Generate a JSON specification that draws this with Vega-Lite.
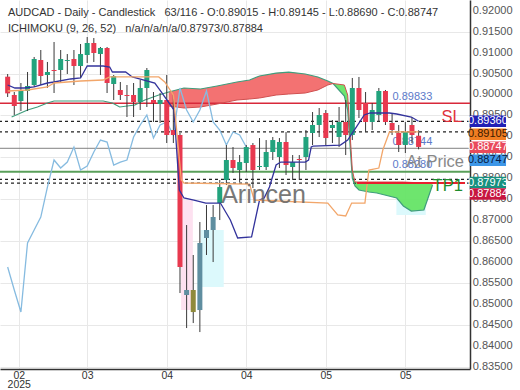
{
"$schema":"https://vega.github.io/schema/vega-lite/v6.json",
"width":470,"height":369,"autosize":"none",
"padding":{"left":0,"top":0,"right":50,"bottom":21},
"background":"#ffffff",
"title":{"text":"AUDCAD - Daily - Candlestick \u00a0\u00a063/116 - O:0.89015 - H:0.89145 - L:0.88690 - C:0.88747","subtitle":"ICHIMOKU (9, 26, 52) \u00a0\u00a0n/a/n/a/n/a/0.87973/0.87884","anchor":"start","frame":"group","offset":-34,"dx":8,"font":"Liberation Sans","fontSize":11,"fontWeight":"normal","color":"#333333","subtitleFont":"Liberation Sans","subtitleFontSize":11,"subtitleColor":"#333333","subtitlePadding":5},
"config":{"view":{"stroke":null},"axis":{"domainColor":"#333333","gridColor":"#e8e8e8","ticks":false,"labelFont":"Liberation Sans","labelFontSize":11,"labelFlush":false},"text":{"font":"Liberation Sans"}},
"resolve":{"scale":{"color":"independent"}},
"datasets":{
"candles":[
{"i":0,"o":0.90425,"h":0.90489,"l":0.89940,"c":0.90027,"t":"d","k":0.85880},
{"i":1,"o":0.89988,"h":0.90059,"l":0.89510,"c":0.89725,"t":"d","k":0.85331},
{"i":2,"o":0.89844,"h":0.90274,"l":0.89605,"c":0.90083,"t":"u","k":0.84805},
{"i":3,"o":0.90083,"h":0.90537,"l":0.89605,"c":0.90203,"t":"u","k":0.86453},
{"i":4,"o":0.90226,"h":0.90895,"l":0.90179,"c":0.90847,"t":"u","k":0.86764},
{"i":5,"o":0.90823,"h":0.91062,"l":0.90226,"c":0.90441,"t":"d","k":0.87074},
{"i":6,"o":0.90465,"h":0.90776,"l":0.90155,"c":0.90537,"t":"u","k":0.87790},
{"i":7,"o":0.90585,"h":0.91253,"l":0.90035,"c":0.90561,"t":"d","k":0.88435},
{"i":8,"o":0.90585,"h":0.91062,"l":0.90298,"c":0.90847,"t":"u","k":0.88244},
{"i":9,"o":0.90799,"h":0.90966,"l":0.90489,"c":0.90823,"t":"u","k":0.88387},
{"i":10,"o":0.90847,"h":0.91062,"l":0.90226,"c":0.90680,"t":"d","k":0.88745},
{"i":11,"o":0.90680,"h":0.91205,"l":0.90394,"c":0.90966,"t":"u","k":0.88196},
{"i":12,"o":0.90943,"h":0.91372,"l":0.90752,"c":0.91229,"t":"u","k":0.88292},
{"i":13,"o":0.91229,"h":0.91348,"l":0.90776,"c":0.90990,"t":"d","k":0.88626},
{"i":14,"o":0.90966,"h":0.91134,"l":0.90465,"c":0.91110,"t":"u","k":0.88912},
{"i":15,"o":0.91110,"h":0.91134,"l":0.90035,"c":0.90274,"t":"d","k":0.88865},
{"i":16,"o":0.90250,"h":0.90465,"l":0.89868,"c":0.90441,"t":"u","k":0.88316},
{"i":17,"o":0.90107,"h":0.90298,"l":0.89868,"c":0.89988,"t":"d","k":0.88387},
{"i":18,"o":0.89988,"h":0.90226,"l":0.89462,"c":0.89964,"t":"d","k":0.88435},
{"i":19,"o":0.89988,"h":0.90274,"l":0.89462,"c":0.89820,"t":"d","k":0.88984},
{"i":20,"o":0.89820,"h":0.90346,"l":0.89629,"c":0.90155,"t":"u","k":0.89271},
{"i":21,"o":0.90155,"h":0.90632,"l":0.89701,"c":0.90585,"t":"u","k":0.89510},
{"i":22,"o":0.89868,"h":0.90059,"l":0.89343,"c":0.89796,"t":"d","k":0.88960},
{"i":23,"o":0.89772,"h":0.90035,"l":0.89319,"c":0.89868,"t":"u","k":0.89271},
{"i":24,"o":0.89868,"h":0.90465,"l":0.88841,"c":0.89032,"t":"d","k":0.89343},
{"i":25,"o":0.89151,"h":0.89988,"l":0.88841,"c":0.89032,"t":"d","k":0.89032},
{"i":26,"o":0.89032,"h":0.89080,"l":0.85259,"c":0.85880,"t":"d","k":0.90155},
{"i":27,"o":0.85212,"h":0.86883,"l":0.84423,"c":0.85331,"t":"m","k":0.89629},
{"i":28,"o":0.85331,"h":0.86167,"l":0.84542,"c":0.84805,"t":"o","k":0.89343},
{"i":29,"o":0.84853,"h":0.86955,"l":0.84327,"c":0.86453,"t":"m","k":0.89629},
{"i":30,"o":0.86573,"h":0.87360,"l":0.86167,"c":0.86764,"t":"m","k":0.90083},
{"i":31,"o":0.86764,"h":0.87360,"l":0.85999,"c":0.87074,"t":"m","k":0.89343},
{"i":32,"o":0.87408,"h":0.87958,"l":0.87002,"c":0.87790,"t":"u","k":0.89151},
{"i":33,"o":0.87958,"h":0.88793,"l":0.87838,"c":0.88435,"t":"u","k":0.88793},
{"i":34,"o":0.88435,"h":0.88745,"l":0.88125,"c":0.88244,"t":"d","k":0.89104},
{"i":35,"o":0.88196,"h":0.88554,"l":0.87910,"c":0.88387,"t":"u","k":0.89032},
{"i":36,"o":0.88364,"h":0.88793,"l":0.88149,"c":0.88745,"t":"u","k":0.88747},
{"i":37,"o":0.88793,"h":0.88841,"l":0.87766,"c":0.88196,"t":"d"},
{"i":38,"o":0.88268,"h":0.88960,"l":0.88196,"c":0.88292,"t":"u"},
{"i":39,"o":0.88268,"h":0.88912,"l":0.88196,"c":0.88626,"t":"u"},
{"i":40,"o":0.88626,"h":0.88984,"l":0.88435,"c":0.88912,"t":"u"},
{"i":41,"o":0.88507,"h":0.88960,"l":0.88244,"c":0.88865,"t":"u"},
{"i":42,"o":0.88865,"h":0.89104,"l":0.88077,"c":0.88316,"t":"d"},
{"i":43,"o":0.88268,"h":0.88554,"l":0.87958,"c":0.88387,"t":"u"},
{"i":44,"o":0.88459,"h":0.88554,"l":0.87958,"c":0.88435,"t":"d"},
{"i":45,"o":0.88507,"h":0.89151,"l":0.88196,"c":0.88984,"t":"u"},
{"i":46,"o":0.89080,"h":0.89581,"l":0.88793,"c":0.89271,"t":"u"},
{"i":47,"o":0.89271,"h":0.89677,"l":0.88984,"c":0.89510,"t":"u"},
{"i":48,"o":0.89558,"h":0.89629,"l":0.88793,"c":0.88960,"t":"d"},
{"i":49,"o":0.89199,"h":0.89390,"l":0.88841,"c":0.89271,"t":"u"},
{"i":50,"o":0.88984,"h":0.89701,"l":0.88745,"c":0.89343,"t":"u"},
{"i":51,"o":0.89343,"h":0.89868,"l":0.88554,"c":0.89032,"t":"d"},
{"i":52,"o":0.89032,"h":0.90394,"l":0.88912,"c":0.90155,"t":"u"},
{"i":53,"o":0.90155,"h":0.90418,"l":0.89438,"c":0.89629,"t":"d"},
{"i":54,"o":0.89796,"h":0.90059,"l":0.89104,"c":0.89343,"t":"d"},
{"i":55,"o":0.89343,"h":0.89796,"l":0.89151,"c":0.89629,"t":"u"},
{"i":56,"o":0.89510,"h":0.90155,"l":0.89343,"c":0.90083,"t":"u"},
{"i":57,"o":0.90083,"h":0.90107,"l":0.89271,"c":0.89343,"t":"d"},
{"i":58,"o":0.89319,"h":0.89558,"l":0.89032,"c":0.89151,"t":"d"},
{"i":59,"o":0.89080,"h":0.89271,"l":0.88626,"c":0.88793,"t":"d"},
{"i":60,"o":0.88793,"h":0.89343,"l":0.88602,"c":0.89104,"t":"u"},
{"i":61,"o":0.89271,"h":0.89462,"l":0.88841,"c":0.89032,"t":"d"},
{"i":62,"o":0.89015,"h":0.89145,"l":0.88690,"c":0.88747,"t":"d"}
],
"tenkan":[
{"i":0,"v":0.90226},{"i":1.1,"v":0.90155},{"i":2.5,"v":0.90155},{"i":4,"v":0.90179},{"i":6,"v":0.90274},{"i":7,"v":0.90298},{"i":9.5,"v":0.90370},{"i":11,"v":0.90394},{"i":12,"v":0.90680},{"i":14.4,"v":0.90680},{"i":15.4,"v":0.90656},{"i":15.8,"v":0.90537},{"i":17.8,"v":0.90537},{"i":18.8,"v":0.90418},{"i":22.2,"v":0.90274},{"i":23.2,"v":0.90059},{"i":25.1,"v":0.89629},{"i":25.9,"v":0.87719},{"i":26.6,"v":0.87528},{"i":28.1,"v":0.87480},{"i":29.9,"v":0.87408},{"i":32.1,"v":0.87408},{"i":33.6,"v":0.87002},{"i":34.7,"v":0.86573},{"i":36.8,"v":0.86597},{"i":38,"v":0.87480},{"i":38.7,"v":0.87528},{"i":39.5,"v":0.87790},{"i":40.5,"v":0.88316},{"i":41.2,"v":0.88387},{"i":44.9,"v":0.88387},{"i":45.4,"v":0.88435},{"i":45.8,"v":0.88745},{"i":46.1,"v":0.88769},{"i":50.2,"v":0.88793},{"i":51.3,"v":0.88912},{"i":52.3,"v":0.89151},{"i":53.8,"v":0.89510},{"i":54.7,"v":0.89558},{"i":57.6,"v":0.89558},{"i":58.7,"v":0.89534},{"i":60.9,"v":0.89462},{"i":62,"v":0.89360}
],
"kijun":[
{"i":0,"v":0.90083},{"i":3,"v":0.90107},{"i":6,"v":0.90179},{"i":7,"v":0.90274},{"i":11,"v":0.90322},{"i":14.4,"v":0.90346},{"i":15.4,"v":0.90418},{"i":22.8,"v":0.90418},{"i":23.7,"v":0.90298},{"i":25,"v":0.89988},{"i":26.2,"v":0.87958},{"i":26.6,"v":0.87886},{"i":36.5,"v":0.87862},{"i":37.2,"v":0.87480},{"i":48.3,"v":0.87408},{"i":49.8,"v":0.87122},{"i":51,"v":0.87098},{"i":51.9,"v":0.87408},{"i":53.9,"v":0.87408},{"i":54.5,"v":0.88196},{"i":56,"v":0.88244},{"i":56.6,"v":0.88674},{"i":57.6,"v":0.89105},{"i":62,"v":0.89105}
],
"span":[
{"i":0.6,"a":0.89462},{"i":3,"a":0.89629},{"i":4.5,"a":0.89701},{"i":6,"a":0.89796},{"i":7,"a":0.89844},{"i":14.4,"a":0.89844},{"i":15.8,"a":0.89796},{"i":16.9,"a":0.89701},{"i":19.2,"a":0.89748},{"i":20.7,"a":0.89868},{"i":22.8,"a":0.89987},
{"i":24.3,"a":0.90059,"b":0.89725,"g":"r"},{"i":26.6,"a":0.90155,"b":0.89677,"g":"r"},{"i":29.1,"a":0.90131,"b":0.89701,"g":"r"},{"i":31.6,"a":0.90202,"b":0.89772,"g":"r"},{"i":34.6,"a":0.90298,"b":0.89868,"g":"r"},{"i":36.5,"a":0.90346,"b":0.89892,"g":"r"},{"i":38,"a":0.90441,"b":0.89916,"g":"r"},{"i":40.5,"a":0.90512,"b":0.89987,"g":"r"},{"i":42.4,"a":0.90536,"b":0.90011,"g":"r"},{"i":44.9,"a":0.90489,"b":0.90035,"g":"r"},{"i":46.8,"a":0.90417,"b":0.90107,"g":"r"},{"i":48.3,"a":0.90321,"b":0.90226,"g":"r"},{"i":49.1,"a":0.90262,"b":0.90262,"g":"r"},
{"i":49.1,"a":0.90262,"b":0.90262,"g":"gr"},{"i":50.8,"a":0.89963,"b":0.90226,"g":"gr"},{"i":51.3,"a":0.89629,"b":0.89987,"g":"gr"},{"i":52,"a":0.88005,"b":0.88196,"g":"gr"},{"i":52.4,"a":0.87814,"b":0.87910,"g":"gr"},{"i":53,"a":0.87719,"b":0.87910,"g":"gr"},{"i":54.5,"a":0.87671,"b":0.87910,"g":"gr"},{"i":55.7,"a":0.87647,"b":0.87910,"g":"gr"},{"i":58.7,"a":0.87528,"b":0.87910,"g":"gr"},{"i":59.7,"a":0.87337,"b":0.87910,"g":"gr"},{"i":60.9,"a":0.87217,"b":0.87900,"g":"gr"},{"i":62.8,"a":0.87241,"b":0.87890,"g":"gr"},{"i":64.1,"a":0.87838,"b":0.87886,"g":"gr"}
],
"ticks":[
{"v":0.835,"t":"0.83500"},{"v":0.84,"t":"0.84000"},{"v":0.845,"t":"0.84500"},{"v":0.85,"t":"0.85000"},{"v":0.855,"t":"0.85500"},{"v":0.86,"t":"0.86000"},{"v":0.865,"t":"0.86500"},{"v":0.87,"t":"0.87000"},{"v":0.875,"t":"0.87500"},{"v":0.88,"t":"0.88000"},{"v":0.885,"t":"0.88500"},{"v":0.89,"t":"0.89000"},{"v":0.895,"t":"0.89500"},{"v":0.9,"t":"0.90000"},{"v":0.905,"t":"0.90500"},{"v":0.91,"t":"0.91000"},{"v":0.915,"t":"0.91500"},{"v":0.92,"t":"0.92000"}
]
},
"layer":[
{"data":{"values":[{"i":26.17,"i2":27.94,"v":0.8748,"v2":0.84853,"k":"p"},{"i":29.13,"i2":32.6,"v":0.86764,"v2":0.85403,"k":"c"},{"i":58.65,"i2":63.08,"v":0.8748,"v2":0.87122,"k":"c"}]},
 "mark":{"type":"rect"},
 "encoding":{
  "x":{"field":"i","type":"quantitative","scale":{"domain":[-0.4,69],"nice":false,"zero":false},"title":null,
   "axis":{"orient":"bottom","values":[1.67,12,24,36,48,60],"labelExpr":"datum.value < 5 ? ['02','2025'] : datum.value < 20 ? '03' : datum.value < 40 ? '04' : '05'","grid":true,"labelPadding":1,"labelLineHeight":9.5,"labelFontSize":10.5,"labelColor":"#333333","labelFlush":false,"labelOverlap":false,"domainWidth":1.5}},
  "x2":{"field":"i2"},
  "y":{"field":"v","type":"quantitative","scale":{"domain":[0.83445,0.92256],"nice":false,"zero":false},"title":null,
   "axis":{"orient":"right","values":[0.835,0.84,0.845,0.85,0.855,0.86,0.865,0.87,0.875,0.88,0.885,0.89,0.895,0.9,0.905,0.91,0.915,0.92],"labels":false,"grid":true,"domainWidth":1.5}},
  "y2":{"field":"v2"},
  "color":{"field":"k","type":"nominal","scale":{"domain":["p","c"],"range":["#fde1f0","#dcf9fc"]},"legend":null}}},
{"data":{"name":"span"},"transform":[{"filter":"isValid(datum.g)"}],
 "mark":{"type":"area","opacity":0.95},
 "encoding":{"x":{"field":"i","type":"quantitative","scale":{"domain":[-0.4,69],"nice":false,"zero":false},"title":null},
  "y":{"field":"a","type":"quantitative","scale":{"domain":[0.83445,0.92256],"nice":false,"zero":false},"title":null},
  "y2":{"field":"b"},
  "color":{"field":"g","type":"nominal","scale":{"domain":["r","gr"],"range":["#f26a6a","#66e466"]},"legend":null}}},
{"data":{"values":[{"v":0.8979}]},"mark":{"type":"rule","color":"#d8293a","strokeWidth":1.3},
 "encoding":{"y":{"field":"v","type":"quantitative","scale":{"domain":[0.83445,0.92256],"nice":false,"zero":false},"title":null}}},
{"data":{"values":[{"v":0.88715}]},"mark":{"type":"rule","color":"#808080","strokeWidth":1},
 "encoding":{"y":{"field":"v","type":"quantitative","scale":{"domain":[0.83445,0.92256],"nice":false,"zero":false},"title":null}}},
{"data":{"values":[{"v":0.88156}]},"mark":{"type":"rule","color":"#5aa05a","strokeWidth":2},
 "encoding":{"y":{"field":"v","type":"quantitative","scale":{"domain":[0.83445,0.92256],"nice":false,"zero":false},"title":null}}},
{"data":{"values":[{"v":0.8936},{"v":0.89105},{"v":0.87973},{"v":0.87884}]},"mark":{"type":"rule","color":"#222222","strokeWidth":1.3,"strokeDash":[3,3]},
 "encoding":{"y":{"field":"v","type":"quantitative","scale":{"domain":[0.83445,0.92256],"nice":false,"zero":false},"title":null}}},
{"data":{"name":"span"},"mark":{"type":"line","color":"#3f9d7c","strokeWidth":1.2},
 "encoding":{"x":{"field":"i","type":"quantitative","scale":{"domain":[-0.4,69],"nice":false,"zero":false},"title":null},
  "y":{"field":"a","type":"quantitative","scale":{"domain":[0.83445,0.92256],"nice":false,"zero":false},"title":null}}},
{"data":{"name":"span"},"transform":[{"filter":"isValid(datum.b)"}],"mark":{"type":"line","color":"#d05050","strokeWidth":1},
 "encoding":{"x":{"field":"i","type":"quantitative","scale":{"domain":[-0.4,69],"nice":false,"zero":false},"title":null},
  "y":{"field":"b","type":"quantitative","scale":{"domain":[0.83445,0.92256],"nice":false,"zero":false},"title":null}}},
{"data":{"name":"candles"},"transform":[{"filter":"isValid(datum.k)"}],"mark":{"type":"line","color":"#86bbe0","strokeWidth":1.3},
 "encoding":{"x":{"field":"i","type":"quantitative","scale":{"domain":[-0.4,69],"nice":false,"zero":false},"title":null},
  "y":{"field":"k","type":"quantitative","scale":{"domain":[0.83445,0.92256],"nice":false,"zero":false},"title":null}}},
{"data":{"values":[{"i":58.06,"v":0.89868,"t":"0.89833"},{"i":58.06,"v":0.88793,"t":"0.88744"},{"i":58.06,"v":0.88244,"t":"0.88280"}]},
 "mark":{"type":"text","align":"left","baseline":"alphabetic","fontSize":11,"color":"#5b79c9"},
 "encoding":{"x":{"field":"i","type":"quantitative","scale":{"domain":[-0.4,69],"nice":false,"zero":false},"title":null},
  "y":{"field":"v","type":"quantitative","scale":{"domain":[0.83445,0.92256],"nice":false,"zero":false},"title":null},"text":{"field":"t"}}},
{"data":{"name":"candles"},"mark":{"type":"rule","color":"#3a3a3a","strokeWidth":1},
 "encoding":{"x":{"field":"i","type":"quantitative","scale":{"domain":[-0.4,69],"nice":false,"zero":false},"title":null},
  "y":{"field":"l","type":"quantitative","scale":{"domain":[0.83445,0.92256],"nice":false,"zero":false},"title":null},"y2":{"field":"h"}}},
{"data":{"name":"candles"},"mark":{"type":"bar","size":5},
 "encoding":{"x":{"field":"i","type":"quantitative","scale":{"domain":[-0.4,69],"nice":false,"zero":false},"title":null},
  "y":{"field":"o","type":"quantitative","scale":{"domain":[0.83445,0.92256],"nice":false,"zero":false},"title":null},"y2":{"field":"c"},
  "color":{"field":"t","type":"nominal","scale":{"domain":["u","d","m","o"],"range":["#22a37d","#e8394f","#5f8ea0","#8f8a3c"]},"legend":null}}},
{"data":{"name":"tenkan"},"mark":{"type":"line","color":"#33339c","strokeWidth":1.3},
 "encoding":{"x":{"field":"i","type":"quantitative","scale":{"domain":[-0.4,69],"nice":false,"zero":false},"title":null},
  "y":{"field":"v","type":"quantitative","scale":{"domain":[0.83445,0.92256],"nice":false,"zero":false},"title":null}}},
{"data":{"name":"kijun"},"mark":{"type":"line","color":"#f2a66a","strokeWidth":1.3},
 "encoding":{"x":{"field":"i","type":"quantitative","scale":{"domain":[-0.4,69],"nice":false,"zero":false},"title":null},
  "y":{"field":"v","type":"quantitative","scale":{"domain":[0.83445,0.92256],"nice":false,"zero":false},"title":null}}},
{"data":{"values":[{"i":52.7,"i2":69,"v":0.87886}]},"mark":{"type":"rule","color":"#e8202e","strokeWidth":2},
 "encoding":{"x":{"field":"i","type":"quantitative","scale":{"domain":[-0.4,69],"nice":false,"zero":false},"title":null},"x2":{"field":"i2"},
  "y":{"field":"v","type":"quantitative","scale":{"domain":[0.83445,0.92256],"nice":false,"zero":false},"title":null}}},
{"data":{"values":[{"i":38.6,"v":0.87408,"t":"Arincen"}]},"mark":{"type":"text","align":"center","baseline":"alphabetic","fontSize":25,"color":"#6a6a6a","opacity":0.9},
 "encoding":{"x":{"field":"i","type":"quantitative","scale":{"domain":[-0.4,69],"nice":false,"zero":false},"title":null},
  "y":{"field":"v","type":"quantitative","scale":{"domain":[0.83445,0.92256],"nice":false,"zero":false},"title":null},"text":{"field":"t"}}},
{"data":{"values":[{"i":60.13,"v":0.88268,"t":"At Price","k":"ap"},{"i":65.44,"v":0.89343,"t":"SL","k":"sl"},{"i":64.11,"v":0.87695,"t":"TP1","k":"tp"}]},
 "mark":{"type":"text","align":"left","baseline":"alphabetic","fontSize":16.5},
 "encoding":{"x":{"field":"i","type":"quantitative","scale":{"domain":[-0.4,69],"nice":false,"zero":false},"title":null},
  "y":{"field":"v","type":"quantitative","scale":{"domain":[0.83445,0.92256],"nice":false,"zero":false},"title":null},"text":{"field":"t"},
  "color":{"field":"k","type":"nominal","scale":{"domain":["ap","sl","tp"],"range":["#888888","#e0303c","#1e8c2c"]},"legend":null}}},
{"data":{"name":"ticks"},
 "mark":{"type":"text","align":"left","baseline":"middle","fontSize":11,"color":"#555555"},
 "encoding":{"x":{"datum":70.17,"type":"quantitative","scale":{"domain":[-0.4,69],"nice":false,"zero":false},"title":null},
  "y":{"field":"v","type":"quantitative","scale":{"domain":[0.83445,0.92256],"nice":false,"zero":false},"title":null},"text":{"field":"t"}}},
{"data":{"values":[{"v":0.8936,"k":"tk"},{"v":0.8905,"k":"kj"},{"v":0.8874,"k":"cl"},{"v":0.88428,"k":"cl2"},{"v":0.87898,"k":"sa"},{"v":0.87623,"k":"sb"}]},
 "mark":{"type":"rule","strokeWidth":11.5,"strokeCap":"butt"},
 "encoding":{"x":{"datum":69.72,"type":"quantitative","scale":{"domain":[-0.4,69],"nice":false,"zero":false},"title":null},"x2":{"datum":75.19},
  "y":{"field":"v","type":"quantitative","scale":{"domain":[0.83445,0.92256],"nice":false,"zero":false},"title":null},
  "color":{"field":"k","type":"nominal","scale":{"domain":["tk","kj","cl","cl2","sa","sb"],"range":["#2121b5","#f07d22","#e94a5c","#3d97e8","#17917f","#c71640"]},"legend":null}}},
{"data":{"values":[{"v":0.8936,"t":"0.89360","k":"tk"},{"v":0.8905,"t":"0.89105","k":"kj"},{"v":0.8874,"t":"0.88747","k":"cl"},{"v":0.88428,"t":"0.88747","k":"cl2"},{"v":0.87898,"t":"0.87973","k":"sa"},{"v":0.87623,"t":"0.87884","k":"sb"}]},
 "mark":{"type":"text","align":"center","baseline":"middle","fontSize":11},
 "encoding":{"x":{"datum":72.45,"type":"quantitative","scale":{"domain":[-0.4,69],"nice":false,"zero":false},"title":null},
  "y":{"field":"v","type":"quantitative","scale":{"domain":[0.83445,0.92256],"nice":false,"zero":false},"title":null},"text":{"field":"t"},
  "color":{"field":"k","type":"nominal","scale":{"domain":["tk","kj","cl","cl2","sa","sb"],"range":["#ffffff","#3a1a00","#ffffff","#0a1a40","#ffffff","#ffffff"]},"legend":null}}}
]
}
